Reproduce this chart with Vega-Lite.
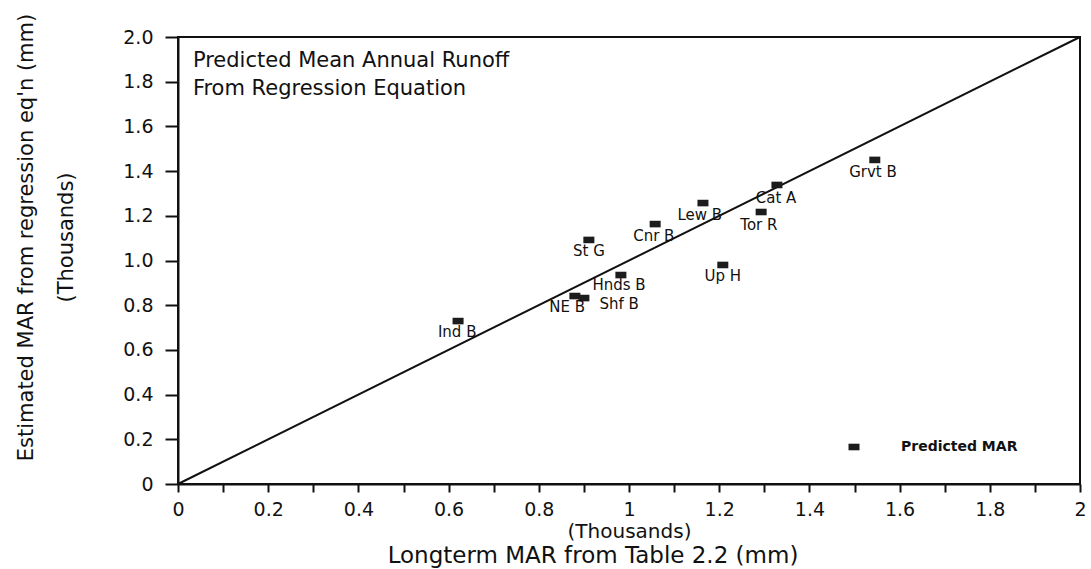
{
  "$schema": "https://vega.github.io/schema/vega-lite/v6.json",
  "width": 902,
  "height": 447,
  "autosize": {"type": "none"},
  "padding": {"left": 178, "top": 37, "right": 11, "bottom": 85},
  "background": "white",
  "config": {
    "font": "DejaVu Sans",
    "view": {"stroke": "#111", "strokeWidth": 2},
    "axis": {
      "grid": false,
      "domainColor": "#111",
      "domainWidth": 2,
      "tickColor": "#111",
      "tickWidth": 2,
      "labelColor": "#111",
      "titleColor": "#111",
      "labelFont": "DejaVu Sans",
      "titleFont": "DejaVu Sans",
      "titleFontWeight": "normal",
      "labelOverlap": false
    }
  },
  "title": {
    "text": "Longterm MAR from Table 2.2 (mm)",
    "orient": "bottom",
    "anchor": "middle",
    "dx": -36,
    "offset": 4,
    "font": "DejaVu Sans",
    "fontSize": 23,
    "fontWeight": "normal",
    "color": "#111"
  },
  "data": {
    "values": [
      {"site": "Ind B", "longterm": 0.621, "estimated": 0.729, "lx": 0.619, "ly": 0.680},
      {"site": "NE B", "longterm": 0.880, "estimated": 0.841, "lx": 0.863, "ly": 0.790},
      {"site": "Shf B", "longterm": 0.900, "estimated": 0.832, "lx": 0.978, "ly": 0.804},
      {"site": "Hnds B", "longterm": 0.982, "estimated": 0.935, "lx": 0.978, "ly": 0.891},
      {"site": "St G", "longterm": 0.911, "estimated": 1.092, "lx": 0.911, "ly": 1.043},
      {"site": "Cnr B", "longterm": 1.058, "estimated": 1.163, "lx": 1.055, "ly": 1.110},
      {"site": "Lew B", "longterm": 1.164, "estimated": 1.257, "lx": 1.157, "ly": 1.204},
      {"site": "Up H", "longterm": 1.208, "estimated": 0.980, "lx": 1.208, "ly": 0.931},
      {"site": "Cat A", "longterm": 1.328, "estimated": 1.338, "lx": 1.326, "ly": 1.280},
      {"site": "Tor R", "longterm": 1.293, "estimated": 1.217, "lx": 1.288, "ly": 1.159},
      {"site": "Grvt B", "longterm": 1.545, "estimated": 1.450, "lx": 1.541, "ly": 1.396}
    ]
  },
  "layer": [
    {
      "data": {"values": [{"longterm": 0, "estimated": 0}, {"longterm": 2, "estimated": 2}]},
      "mark": {"type": "line", "color": "#111", "strokeWidth": 2},
      "encoding": {
        "x": {"field": "longterm", "type": "quantitative"},
        "y": {"field": "estimated", "type": "quantitative"}
      }
    },
    {
      "mark": {"type": "point", "filled": true, "opacity": 1, "size": 121, "shape": "M-1,-0.6H1V0.6H-1Z"},
      "encoding": {
        "x": {
          "field": "longterm",
          "type": "quantitative",
          "scale": {"domain": [0, 2], "nice": false, "zero": false},
          "axis": {
            "values": [0, 0.1, 0.2, 0.3, 0.4, 0.5, 0.6, 0.7, 0.8, 0.9, 1, 1.1, 1.2, 1.3, 1.4, 1.5, 1.6, 1.7, 1.8, 1.9, 2],
            "labelExpr": "round(datum.value * 10) % 2 == 0 ? format(datum.value, '~g') : ''",
            "labelFlush": false,
            "labelFontSize": 19,
            "tickSize": 8,
            "labelPadding": 8,
            "title": "(Thousands)",
            "titleFontSize": 20,
            "titleY": 47,
            "titleBaseline": "middle"
          }
        },
        "y": {
          "field": "estimated",
          "type": "quantitative",
          "scale": {"domain": [0, 2], "nice": false, "zero": false},
          "axis": {
            "values": [0, 0.1, 0.2, 0.3, 0.4, 0.5, 0.6, 0.7, 0.8, 0.9, 1, 1.1, 1.2, 1.3, 1.4, 1.5, 1.6, 1.7, 1.8, 1.9, 2],
            "labelExpr": "round(datum.value * 10) % 2 == 0 ? (datum.value == 0 ? '0' : format(datum.value, '.1f')) : ''",
            "labelFlush": false,
            "labelFontSize": 19,
            "tickSize": 13,
            "labelPadding": 12,
            "title": ["Estimated MAR from regression eq'n (mm)", "(Thousands)"],
            "titleFontSize": 21,
            "titleLineHeight": 40,
            "titleAngle": -90,
            "titleX": -152,
            "titleY": 200,
            "titleBaseline": "middle"
          }
        },
        "color": {
          "datum": "Predicted MAR",
          "scale": {"range": ["#1c1c1c"]},
          "legend": {
            "title": null,
            "orient": "none",
            "legendX": 669,
            "legendY": 403,
            "symbolType": "M-1,-0.6H1V0.6H-1Z",
            "symbolSize": 121,
            "labelFontSize": 14,
            "labelFontWeight": "bold",
            "labelFont": "DejaVu Sans",
            "labelColor": "#111",
            "labelOffset": 40
          }
        }
      }
    },
    {
      "mark": {"type": "text", "fontSize": 15, "color": "#111", "align": "center", "baseline": "middle"},
      "encoding": {
        "x": {"field": "lx", "type": "quantitative"},
        "y": {"field": "ly", "type": "quantitative"},
        "text": {"field": "site"}
      }
    },
    {
      "data": {"values": [{"note": "Predicted Mean Annual Runoff"}]},
      "mark": {
        "type": "text",
        "text": ["Predicted Mean Annual Runoff", "From Regression Equation"],
        "fontSize": 21,
        "lineHeight": 28,
        "align": "left",
        "baseline": "top",
        "color": "#111"
      },
      "encoding": {
        "x": {"datum": 0.033, "type": "quantitative"},
        "y": {"datum": 1.94, "type": "quantitative"}
      }
    }
  ]
}
